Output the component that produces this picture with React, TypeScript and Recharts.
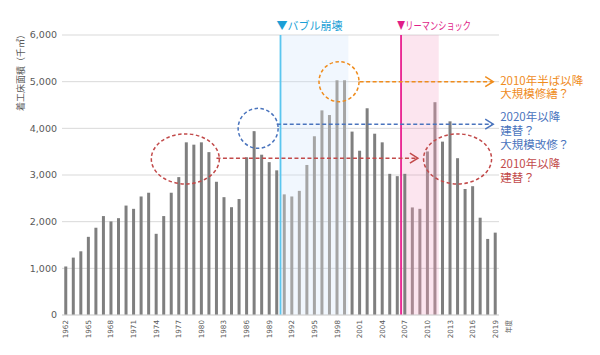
import React from 'react'
import {
  BarChart, Bar, Cell, XAxis, YAxis, CartesianGrid,
  ReferenceArea, ReferenceLine, ReferenceDot, Customized,
} from 'recharts'

// 年度
const years = [
  '1962', '1963', '1964', '1965', '1966', '1967', '1968', '1969', '1970', '1971',
  '1972', '1973', '1974', '1975', '1976', '1977', '1978', '1979', '1980', '1981',
  '1982', '1983', '1984', '1985', '1986', '1987', '1988', '1989', '1990', '1991',
  '1992', '1993', '1994', '1995', '1996', '1997', '1998', '1999', '2000', '2001',
  '2002', '2003', '2004', '2005', '2006', '2007', '2008', '2009', '2010', '2011',
  '2012', '2013', '2014', '2015', '2016', '2017', '2018', '2019',
]

// 着工床面積（千㎡）
const floorArea = [
  1040, 1230, 1365, 1675, 1870, 2120, 2005, 2075, 2345, 2275,
  2540, 2620, 1740, 2120, 2620, 2955, 3700, 3650, 3700, 3490,
  2855, 2525, 2310, 2485, 3380, 3940, 3435, 3275, 3100, 2585,
  2540, 2660, 3215, 3830, 4385, 4285, 5030, 5030, 3930, 3520,
  4430, 3885, 3700, 3025, 2975, 3025, 2305, 2275, 3505, 4560,
  3715, 4150, 3360, 2700, 2760, 2085, 1630, 1765,
]

const xTicks = [
  '1962', '1965', '1968', '1971', '1974', '1977', '1980', '1983', '1986', '1989',
  '1992', '1995', '1998', '2001', '2004', '2007', '2010', '2013', '2016', '2019',
]
const yTicks = [0, 1000, 2000, 3000, 4000, 5000, 6000]

const bubbleYears = ['1991', '1999']
const lehmanYears = ['2007', '2011']

const data = years.map((year, i) => ({ year, value: floorArea[i] }))

const JP = '"Noto Sans CJK JP", sans-serif'
const NUM = '"DejaVu Sans", sans-serif'
const ORANGE = '#ef8c1d'
const BLUE = '#4a74bd'
const RED = '#c24a4a'

const barColor = (y: string) => {
  if (y >= bubbleYears[0] && y <= bubbleYears[1]) return '#a5a5a5'
  if (y > lehmanYears[0] && y <= lehmanYears[1]) return '#a88a93'
  return '#7f7f7f'
}

const XTick = ({ x, y, payload }: any) => (
  <g>
    <text x={x} y={y} transform={`rotate(-90 ${x} ${y})`} textAnchor="end" dominantBaseline="central"
      fontSize={7.2} fontFamily={NUM} fill="#595959">{payload.value}</text>
    {payload.value === '2019' && (
      <text x={x + 13} y={y} transform={`rotate(-90 ${x + 13} ${y})`} textAnchor="end" dominantBaseline="central"
        fontSize={6.5} fontFamily={JP} fill="#595959">年度</text>
    )}
  </g>
)

const eventLine = (color: string, textColor: string, label: string, width?: number) => (p: any) => {
  const top = Math.min(p.y1, p.y2)
  return (
    <g>
      <line x1={p.x1} y1={p.y1} x2={p.x2} y2={p.y2} stroke={color} strokeWidth={1.8} />
      <text x={p.x1 - 4} y={top - 10} dominantBaseline="central" fontSize={11} fontFamily={JP}
        fill={textColor} textLength={width} lengthAdjust={width ? 'spacingAndGlyphs' : undefined}>{label}</text>
    </g>
  )
}

const ring = (color: string, rx: number, ry: number, dx = 0) => (p: any) => (
  <ellipse cx={p.cx + dx} cy={p.cy} rx={rx} ry={ry} fill="none" stroke={color}
    strokeWidth={1.5} strokeDasharray="3.5 2.5" />
)

// 複数行の注記（1つのtextにtspanで改行）
const note = (color: string, lines: string[], first: number, x: number, y: number) => (
  <text x={x} y={y + first} fontSize={11.5} fontFamily={JP} fill={color} dominantBaseline="central">
    {lines.map((t, i) => (
      <tspan key={t + i} x={x} dy={i === 0 ? 0 : 13.8}>{t}</tspan>
    ))}
  </text>
)

const arrow = (color: string, lines: string[], first: number) => (p: any) => (
  <g>
    <line x1={p.x1} y1={p.y1} x2={p.x2 - 2} y2={p.y2} stroke={color} strokeWidth={1.5} strokeDasharray="4 2.5" />
    <polyline points={`${p.x2 - 10},${p.y2 - 5} ${p.x2 - 2},${p.y2} ${p.x2 - 10},${p.y2 + 5}`}
      fill="none" stroke={color} strokeWidth={1.5} />
    {lines.length > 0 && note(color, lines, first, p.x2 + 5, p.y2)}
  </g>
)

const YLabel = () => (
  <text x={20} y={30} transform="rotate(-90 20 30)" textAnchor="end" dominantBaseline="central"
    fontSize={9} fontFamily={JP} fill="#595959">着工床面積（千㎡）</text>
)

export default function App() {
  return (
    <div style={{ position: 'absolute', left: 0, top: 0, background: '#fff' }}>
      <BarChart width={600} height={355} data={data} barCategoryGap="30%"
        margin={{ top: 35, right: 101, left: 0, bottom: 0 }}>
        <ReferenceArea x1={bubbleYears[0]} x2={bubbleYears[1]} fill="#c6e0fa" fillOpacity={0.25} stroke="none" />
        <ReferenceArea x1={lehmanYears[0]} x2={lehmanYears[1]} fill="#f06ea9" fillOpacity={0.18} stroke="none" />
        <CartesianGrid vertical={false} stroke="#d9d9d9" />
        <XAxis dataKey="year" ticks={xTicks} interval={0} height={40} tickLine={false} tickSize={3} tickMargin={2}
          axisLine={{ stroke: '#d9d9d9' }} tick={<XTick />} />
        <YAxis domain={[0, 6000]} ticks={yTicks} width={62} axisLine={false} tickLine={false} tickSize={3} tickMargin={2}
          tickFormatter={(v: number) => v.toLocaleString('en-US')}
          tick={{ fontSize: 9.5, fontFamily: NUM, fill: '#595959' }} />
        <Bar dataKey="value" isAnimationActive={false}>
          {data.map(d => <Cell key={d.year} fill={barColor(d.year)} />)}
        </Bar>
        <ReferenceLine x={bubbleYears[0]} position="start" shape={eventLine('#5bc6ef', '#1c9fd6', '▼バブル崩壊')} />
        <ReferenceLine x={lehmanYears[0]} position="start" shape={eventLine('#e8208f', '#e01e88', '▼リーマンショック', 74)} />
        <ReferenceDot x="1998" y={5000} shape={ring(ORANGE, 20, 20, 2)} />
        <ReferenceDot x="1987" y={4000} shape={ring(BLUE, 20, 20, 4)} />
        <ReferenceDot x="1978" y={3345} shape={ring(RED, 34, 25, -1)} />
        <ReferenceDot x="2014" y={3345} shape={ring(RED, 34, 25)} />
        <ReferenceLine segment={[{ x: '2001', y: 5000 }, { x: '2019', y: 5000 }]}
          shape={arrow(ORANGE, ['2010年半ば以降', '大規模修繕？'], -2)} />
        <ReferenceLine segment={[{ x: '1990', y: 4090 }, { x: '2019', y: 4090 }]}
          shape={arrow(BLUE, ['2020年以降', '建替？', '大規模改修？'], -8)} />
        <ReferenceLine segment={[{ x: '1982', y: 3360 }, { x: '2009', y: 3360 }]}
          shape={arrow(RED, [], 0)} />
        <ReferenceLine segment={[{ x: '2019', y: 3360 }, { x: '2019', y: 3360 }]}
          shape={(p: any) => <g>{note(RED, ['2010年以降', '建替？'], 5, p.x2 + 5, p.y2)}</g>} />
        <Customized component={<YLabel />} />
      </BarChart>
    </div>
  )
}
